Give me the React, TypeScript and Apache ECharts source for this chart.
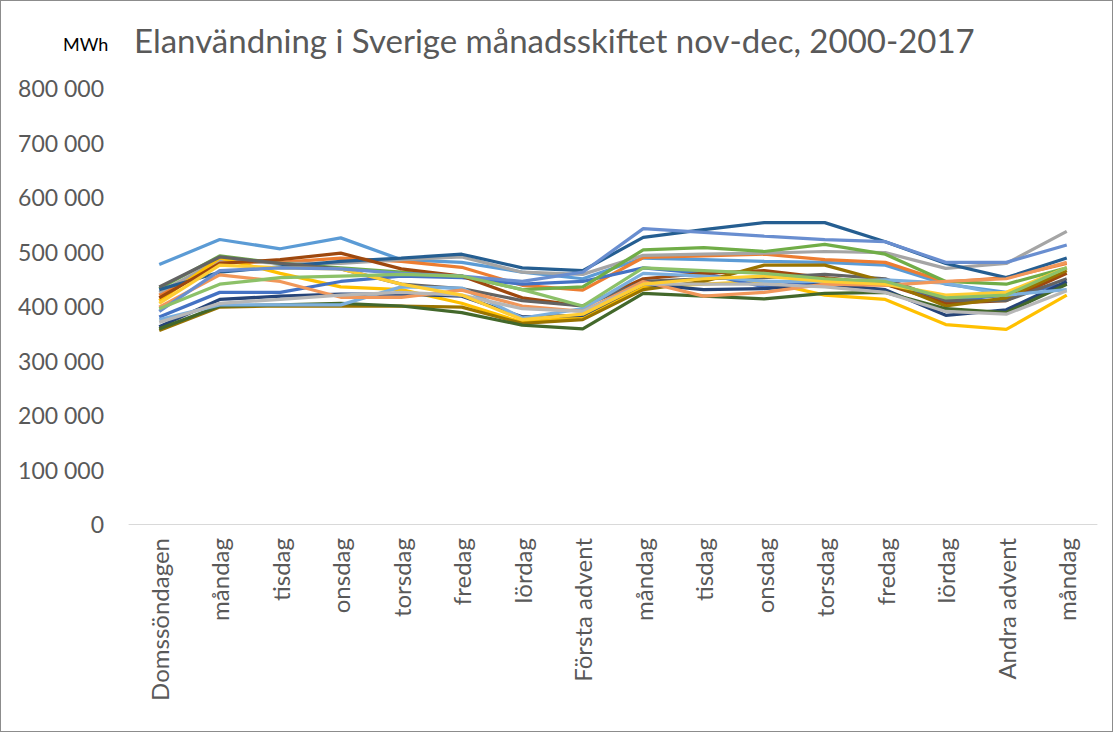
import React, { useEffect, useRef } from "react";
import * as echarts from "echarts";

const categories = [
  "Domssöndagen", "måndag", "tisdag", "onsdag", "torsdag", "fredag", "lördag",
  "Första advent", "måndag", "tisdag", "onsdag", "torsdag", "fredag", "lördag",
  "Andra advent", "måndag",
];

const years = [
  "2000", "2001", "2002", "2003", "2004", "2005", "2006", "2007", "2008",
  "2009", "2010", "2011", "2012", "2013", "2014", "2015", "2016", "2017",
];

const colors = [
  "#5B9BD5", "#ED7D31", "#A5A5A5", "#FFC000", "#4472C4", "#70AD47",
  "#255E91", "#9E480E", "#636363", "#997300", "#264478", "#43682B",
  "#7CAFDD", "#F1975A", "#B7B7B7", "#FFCD33", "#698ED0", "#8CC168",
];

// values in thousands of MWh
const s2000 = [476, 522, 505, 525, 485, 480, 462, 450, 488, 485, 482, 480, 475, 440, 425, 440];
const s2001 = [420, 480, 480, 488, 482, 471, 438, 429, 489, 492, 495, 485, 480, 444, 452, 478];
const s2002 = [425, 485, 478, 478, 485, 490, 462, 458, 493, 495, 497, 500, 498, 469, 478, 537];
const s2003 = [410, 488, 460, 435, 430, 405, 370, 380, 435, 440, 445, 420, 412, 366, 357, 420];
const s2004 = [380, 425, 425, 445, 455, 452, 440, 445, 470, 460, 435, 445, 440, 410, 420, 440];
const s2005 = [432, 492, 478, 470, 462, 455, 430, 435, 503, 507, 500, 513, 495, 445, 440, 470];
const s2006 = [430, 462, 472, 482, 488, 495, 470, 465, 526, 540, 553, 553, 518, 478, 452, 488];
const s2007 = [415, 478, 485, 497, 468, 455, 415, 400, 450, 460, 465, 452, 440, 405, 410, 460];
const s2008 = [435, 490, 478, 468, 440, 432, 410, 400, 445, 450, 452, 458, 450, 410, 410, 450];
const s2009 = [355, 398, 400, 400, 400, 398, 368, 375, 430, 445, 475, 475, 445, 400, 415, 465];
const s2010 = [362, 412, 418, 422, 422, 418, 380, 383, 440, 430, 432, 440, 430, 383, 393, 445];
const s2011 = [358, 400, 402, 405, 400, 388, 365, 358, 423, 418, 413, 423, 425, 395, 388, 440];
const s2012 = [375, 402, 402, 402, 435, 433, 378, 395, 460, 455, 445, 445, 448, 442, 420, 430];
const s2013 = [398, 457, 445, 416, 416, 429, 400, 390, 445, 418, 425, 440, 438, 445, 450, 480];
const s2014 = [370, 405, 412, 420, 425, 420, 395, 390, 440, 440, 440, 435, 425, 390, 385, 428];
const s2015 = [405, 475, 470, 468, 440, 420, 375, 385, 440, 450, 455, 445, 440, 420, 425, 470];
const s2016 = [390, 465, 470, 468, 460, 455, 445, 462, 542, 535, 528, 522, 518, 480, 480, 512];
const s2017 = [395, 440, 452, 455, 458, 455, 430, 400, 470, 465, 460, 450, 445, 415, 420, 470];

const seriesValues = [
  s2000, s2001, s2002, s2003, s2004, s2005, s2006, s2007, s2008,
  s2009, s2010, s2011, s2012, s2013, s2014, s2015, s2016, s2017,
];

const yTicks = [0, 100000, 200000, 300000, 400000, 500000, 600000, 700000, 800000];

const fmt = (v: number) =>
  String(Math.round(v)).replace(/\B(?=(\d{3})+(?!\d))/g, " ");

export default function App() {
  const ref = useRef<HTMLDivElement>(null);

  useEffect(() => {
    document.body.style.margin = "0";
    if (!ref.current) return;
    const chart = echarts.init(ref.current, null, { renderer: "svg" });
    const font = "Lato, 'Noto Sans', sans-serif";
    chart.setOption({
      animation: false,
      backgroundColor: "#ffffff",
      title: {
        text: "Elanvändning i Sverige månadsskiftet nov-dec, 2000-2017",
        left: 128,
        top: 17,
        textStyle: {
          fontFamily: font,
          fontSize: 33,
          fontWeight: "normal",
          color: "#595959",
        },
      },
      graphic: [
        {
          type: "text",
          left: 62,
          top: 34,
          style: {
            text: "MWh",
            fontFamily: font,
            fontSize: 18,
            fill: "#000000",
          },
        },
      ],
      grid: { left: 128, right: 15, top: 87, bottom: 207, containLabel: false },
      xAxis: {
        type: "category",
        data: categories,
        boundaryGap: true,
        axisLine: { show: true, lineStyle: { color: "#D9D9D9", width: 1 } },
        axisTick: { show: false },
        axisLabel: {
          rotate: 90,
          interval: 0,
          fontFamily: font,
          fontSize: 24,
          color: "#595959",
          margin: 14,
        },
      },
      yAxis: {
        type: "value",
        min: 0,
        max: 800000,
        interval: 100000,
        splitLine: { show: false },
        axisLine: { show: false },
        axisTick: { show: false },
        axisLabel: {
          fontFamily: font,
          fontSize: 23,
          color: "#595959",
          margin: 25,
          formatter: (v: number) => (yTicks.includes(v) ? fmt(v) : ""),
        },
      },
      series: seriesValues.map((vals, i) => ({
        name: years[i],
        type: "line",
        data: vals.map((v) => v * 1000),
        symbol: "none",
        lineStyle: { color: colors[i], width: 3.25 },
        itemStyle: { color: colors[i] },
      })),
    });
    return () => chart.dispose();
  }, []);

  return (
    <div
      style={{
        position: "absolute",
        left: 0,
        top: 0,
        width: 1113,
        height: 732,
        boxSizing: "border-box",
        border: "1px solid #8c8c8c",
        background: "#fff",
      }}
    >
      <div ref={ref} style={{ width: 1111, height: 730 }} />
    </div>
  );
}
